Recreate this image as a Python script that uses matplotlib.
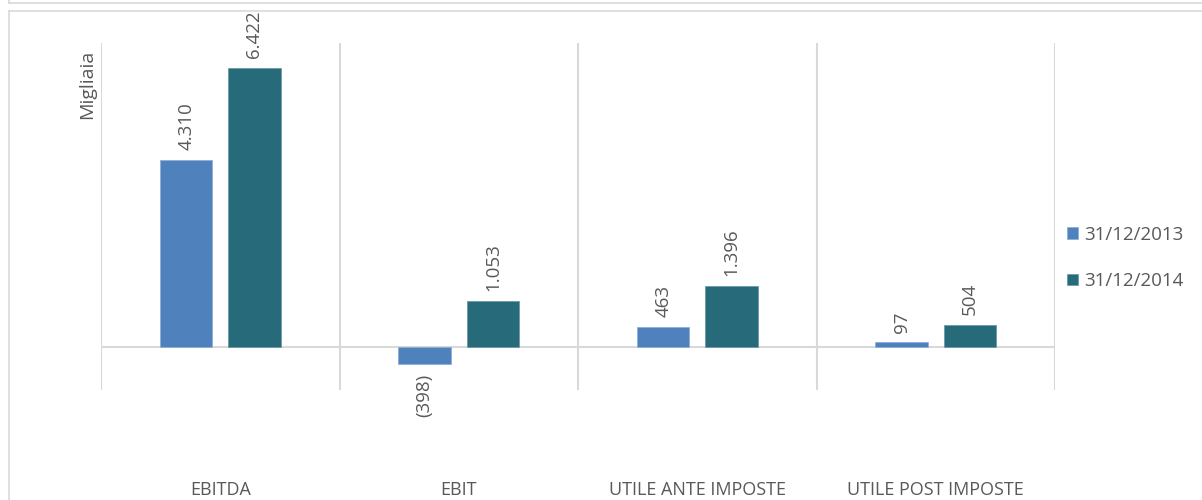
import numpy as np
import matplotlib.pyplot as plt
from matplotlib.lines import Line2D

plt.rcParams['font.family'] = ['Open Sans', 'DejaVu Sans']

categories = ['EBITDA', 'EBIT', 'UTILE ANTE IMPOSTE', 'UTILE POST IMPOSTE']
series_names = ['31/12/2013', '31/12/2014']
values_2013 = [4310, -398, 463, 97]
values_2014 = [6422, 1053, 1396, 504]
colors = ['#4F81BD', '#276A7A']
text_color = '#595959'
grid_color = '#D9D9D9'


def fmt(v):
    s = '{:,}'.format(abs(v)).replace(',', '.')
    return '({})'.format(s) if v < 0 else s


fig = plt.figure(figsize=(12.02, 5.0), dpi=100)
W, H = 1202, 500

# chart frame (Excel-like borders)
for y in (3, 11):
    fig.add_artist(Line2D([9 / W, 1], [1 - y / H, 1 - y / H], color='#D9D9D9', lw=1.2))
fig.add_artist(Line2D([9 / W, 9 / W], [0, 1 - 11 / H], color='#D9D9D9', lw=1.2))
fig.add_artist(Line2D([9 / W, 9 / W], [1 - 3 / H, 1], color='#D9D9D9', lw=1.2))

ax = fig.add_axes([101 / W, 1 - 390 / H, (1055 - 101) / W, (390 - 43) / H])

x = np.arange(len(categories))
bw = 0.22
off = 0.143
b1 = ax.bar(x - off, values_2013, bw, color=colors[0], label=series_names[0],
            edgecolor='#8FAFD6', linewidth=0.6)
b2 = ax.bar(x + off, values_2014, bw, color=colors[1], label=series_names[1],
            edgecolor='#6E9BA8', linewidth=0.6)

for bars, vals in ((b1, values_2013), (b2, values_2014)):
    for rect, v in zip(bars, vals):
        cx = rect.get_x() + rect.get_width() / 2
        if v >= 0:
            ax.annotate(fmt(v), (cx, v), xytext=(0, 7), textcoords='offset points',
                        rotation=90, ha='center', va='bottom', fontsize=13.5, color=text_color)
        else:
            ax.annotate(fmt(v), (cx, v), xytext=(0, -7), textcoords='offset points',
                        rotation=90, ha='center', va='top', fontsize=13.5, color=text_color)

ax.set_xlim(-0.5, len(categories) - 0.5)
ax.set_ylim(-1000, 7000)
for b in np.arange(-0.5, len(categories), 1):
    ax.axvline(b, color=grid_color, lw=1.5, zorder=0)
ax.axhline(0, color=grid_color, lw=1.5, zorder=0)
for s in ax.spines.values():
    s.set_visible(False)
ax.set_yticks([])
ax.set_xticks([])

for i, c in enumerate(categories):
    fig.text((101 + (i + 0.5) * (1055 - 101) / len(categories)) / W, 1 - 490 / H, c,
             ha='center', va='center', fontsize=13, color=text_color)

fig.text(87 / W, 1 - 84 / H, 'Migliaia', rotation=90, ha='center', va='center',
         fontsize=14, color=text_color)

fig.legend(loc='center left', bbox_to_anchor=(1050 / W, 1 - 258 / H), frameon=False,
           fontsize=13.5, labelcolor=text_color, handlelength=0.6, handleheight=0.6,
           handletextpad=0.3, labelspacing=1.5)

fig.savefig('out.png', dpi=100)
